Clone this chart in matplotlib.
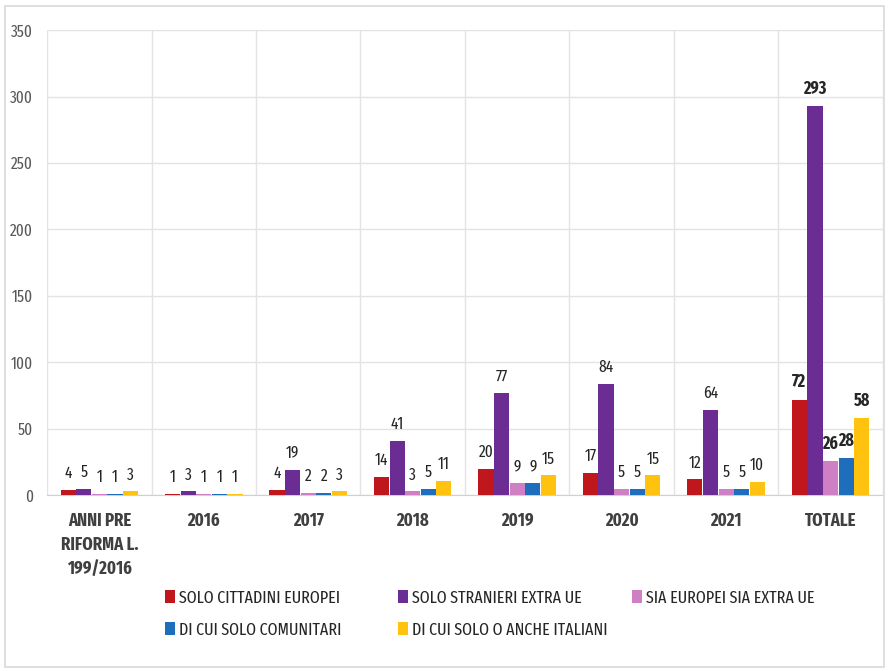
import matplotlib
matplotlib.use("Agg")
import matplotlib.pyplot as plt
import numpy as np
from matplotlib.patches import Rectangle

plt.rcParams['font.family'] = ['Fira Sans Extra Condensed', 'Fira Sans Condensed', 'Carlito', 'DejaVu Sans']

categories = ["ANNI PRE\nRIFORMA L.\n199/2016", "2016", "2017", "2018", "2019", "2020", "2021", "TOTALE"]
series_names = ["SOLO CITTADINI EUROPEI", "SOLO STRANIERI EXTRA UE", "SIA EUROPEI SIA EXTRA UE",
                "DI CUI SOLO COMUNITARI", "DI CUI SOLO O ANCHE ITALIANI"]
solo_europei = [4, 1, 4, 14, 20, 17, 12, 72]
solo_extra_ue = [5, 3, 19, 41, 77, 84, 64, 293]
sia_europei_extra = [1, 1, 2, 3, 9, 5, 5, 26]
solo_comunitari = [1, 1, 2, 5, 9, 5, 5, 28]
anche_italiani = [3, 1, 3, 11, 15, 15, 10, 58]
colors = ["#C0171D", "#6B2D93", "#CF7FC4", "#1E6EBD", "#FFC20E"]

series = [solo_europei, solo_extra_ue, sia_europei_extra, solo_comunitari, anche_italiani]

fig = plt.figure(figsize=(8.89, 6.71), dpi=100)
fig.patches.append(Rectangle((0.006, 0.006), 0.988, 0.985, transform=fig.transFigure,
                             fill=False, edgecolor="#D9D9D9", linewidth=1.2))
ax = fig.add_axes([0.053, 0.262, 0.940, 0.693])

x = np.arange(len(categories))
w = 0.145
handles = []
for i, (vals, c) in enumerate(zip(series, colors)):
    pos = x + (i - 2) * w * 1.03
    bars = ax.bar(pos, vals, width=w, color=c, label=series_names[i], zorder=3)
    handles.append(bars)
    for j, (b, v) in enumerate(zip(bars, vals)):
        bold = (j == len(categories) - 1)
        ax.annotate(str(v), (b.get_x() + b.get_width() / 2, v), xytext=(0, 6),
                    textcoords="offset points", ha="center", va="bottom",
                    fontsize=12.5 if bold else 12, fontweight="bold" if bold else "normal",
                    color="#262626")

ax.set_xlim(-0.5, len(categories) - 0.5)
ax.set_ylim(0, 350)
ax.set_yticks(np.arange(0, 351, 50))
ax.set_xticks(x)
ax.set_xticklabels(categories, fontsize=13, fontweight="bold", color="#404040", linespacing=1.45, va="top")
ax.tick_params(axis="y", labelsize=12, colors="#595959", length=0, pad=10)
ax.tick_params(axis="x", length=0, pad=12)
ax.grid(axis="y", color="#E3E3E3", linewidth=1, zorder=0)
for b in np.arange(-0.5, len(categories) + 0.5, 1):
    ax.axvline(b, color="#E3E3E3", linewidth=1, zorder=0)
for s in ["top", "right", "left"]:
    ax.spines[s].set_visible(False)
ax.spines["bottom"].set_color("#D0D0D0")

# legend entries placed row-major in a 3-column grid
leg_x = [0.186, 0.448, 0.711]
leg_y = [0.109, 0.061]
for i, h in enumerate(handles):
    r, cidx = divmod(i, 3)
    leg = fig.legend([h], [series_names[i]], loc="center left",
                     bbox_to_anchor=(leg_x[cidx], leg_y[r]), frameon=False, fontsize=12.5,
                     handlelength=0.55, handleheight=0.8, handletextpad=0.25,
                     borderpad=0, borderaxespad=0)
    for t in leg.get_texts():
        t.set_color("#262626")

fig.savefig("out.png", dpi=100)
